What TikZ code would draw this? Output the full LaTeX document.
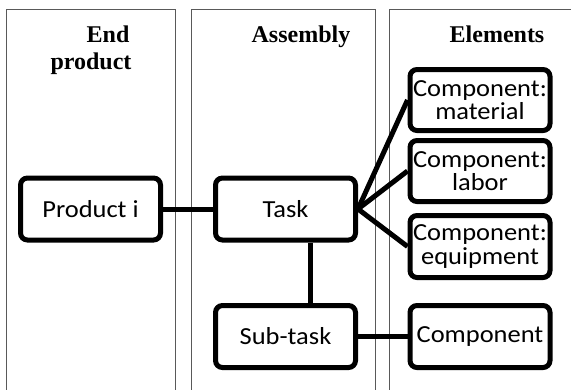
\documentclass[tikz,border=0pt]{standalone}
\usepackage{fontspec}
\setmainfont{Liberation Serif}
\newfontfamily\bodyfont[FakeStretch=1.08]{Carlito}
\begin{document}
\begin{tikzpicture}[x=1pt,y=-1pt,
  panel/.style={draw=black!65, line width=1pt},
  head/.style={anchor=base, inner sep=0pt, font=\fontsize{24}{26}\selectfont\bfseries},
  box/.style={draw, line width=5pt, rounded corners=7pt, fill=white,
    minimum width=140pt, minimum height=62pt, inner sep=0pt, align=center,
    font=\bodyfont\fontsize{24.5}{23.5}\selectfont},
  conn/.style={line width=5pt}]
\useasboundingbox (0,0) rectangle (571,389);
\clip (0,0) rectangle (571,389);
% panels
\draw[panel] (6,400) -- (6,9) -- (175,9) -- (175,400);
\draw[panel] (191,400) -- (191,9) -- (375,9) -- (375,400);
\draw[panel] (389,400) -- (389,9) -- (600,9);
% headers
\node[head] (hEnd) at (108,42) {End};
\node[head] (hProd) at (91,69) {product};
\node[head] (hAsm) at (301,42) {Assembly};
\node[head] (hElm) at (497,42) {Elements};
% boxes
\node[box] (prod) at (90.5,209) {Product i};
\node[box] (task) at (285.5,209) {Task};
\node[box] (sub) at (285.5,336.5) {Sub-task};
\node[box, minimum height=61pt] (mat) at (480,100) {Component:\\material};
\node[box, minimum height=61pt] (lab) at (480,171) {Component:\\labor};
\node[box] (equ) at (480,246.5) {Component:\\equipment};
\node[box] (comp) at (480,336.5) {Component};
% connectors
\draw[conn] (prod.east) -- (task.west);
\draw[conn] ([xshift=24.5pt]task.south) -- ([xshift=24.5pt]sub.north);
\draw[conn] (sub.east) -- (comp.west);
\draw[conn] (task.east) -- (mat.west);
\draw[conn] (task.east) -- (lab.west);
\draw[conn] (task.east) -- (equ.west);
\end{tikzpicture}
\end{document}
